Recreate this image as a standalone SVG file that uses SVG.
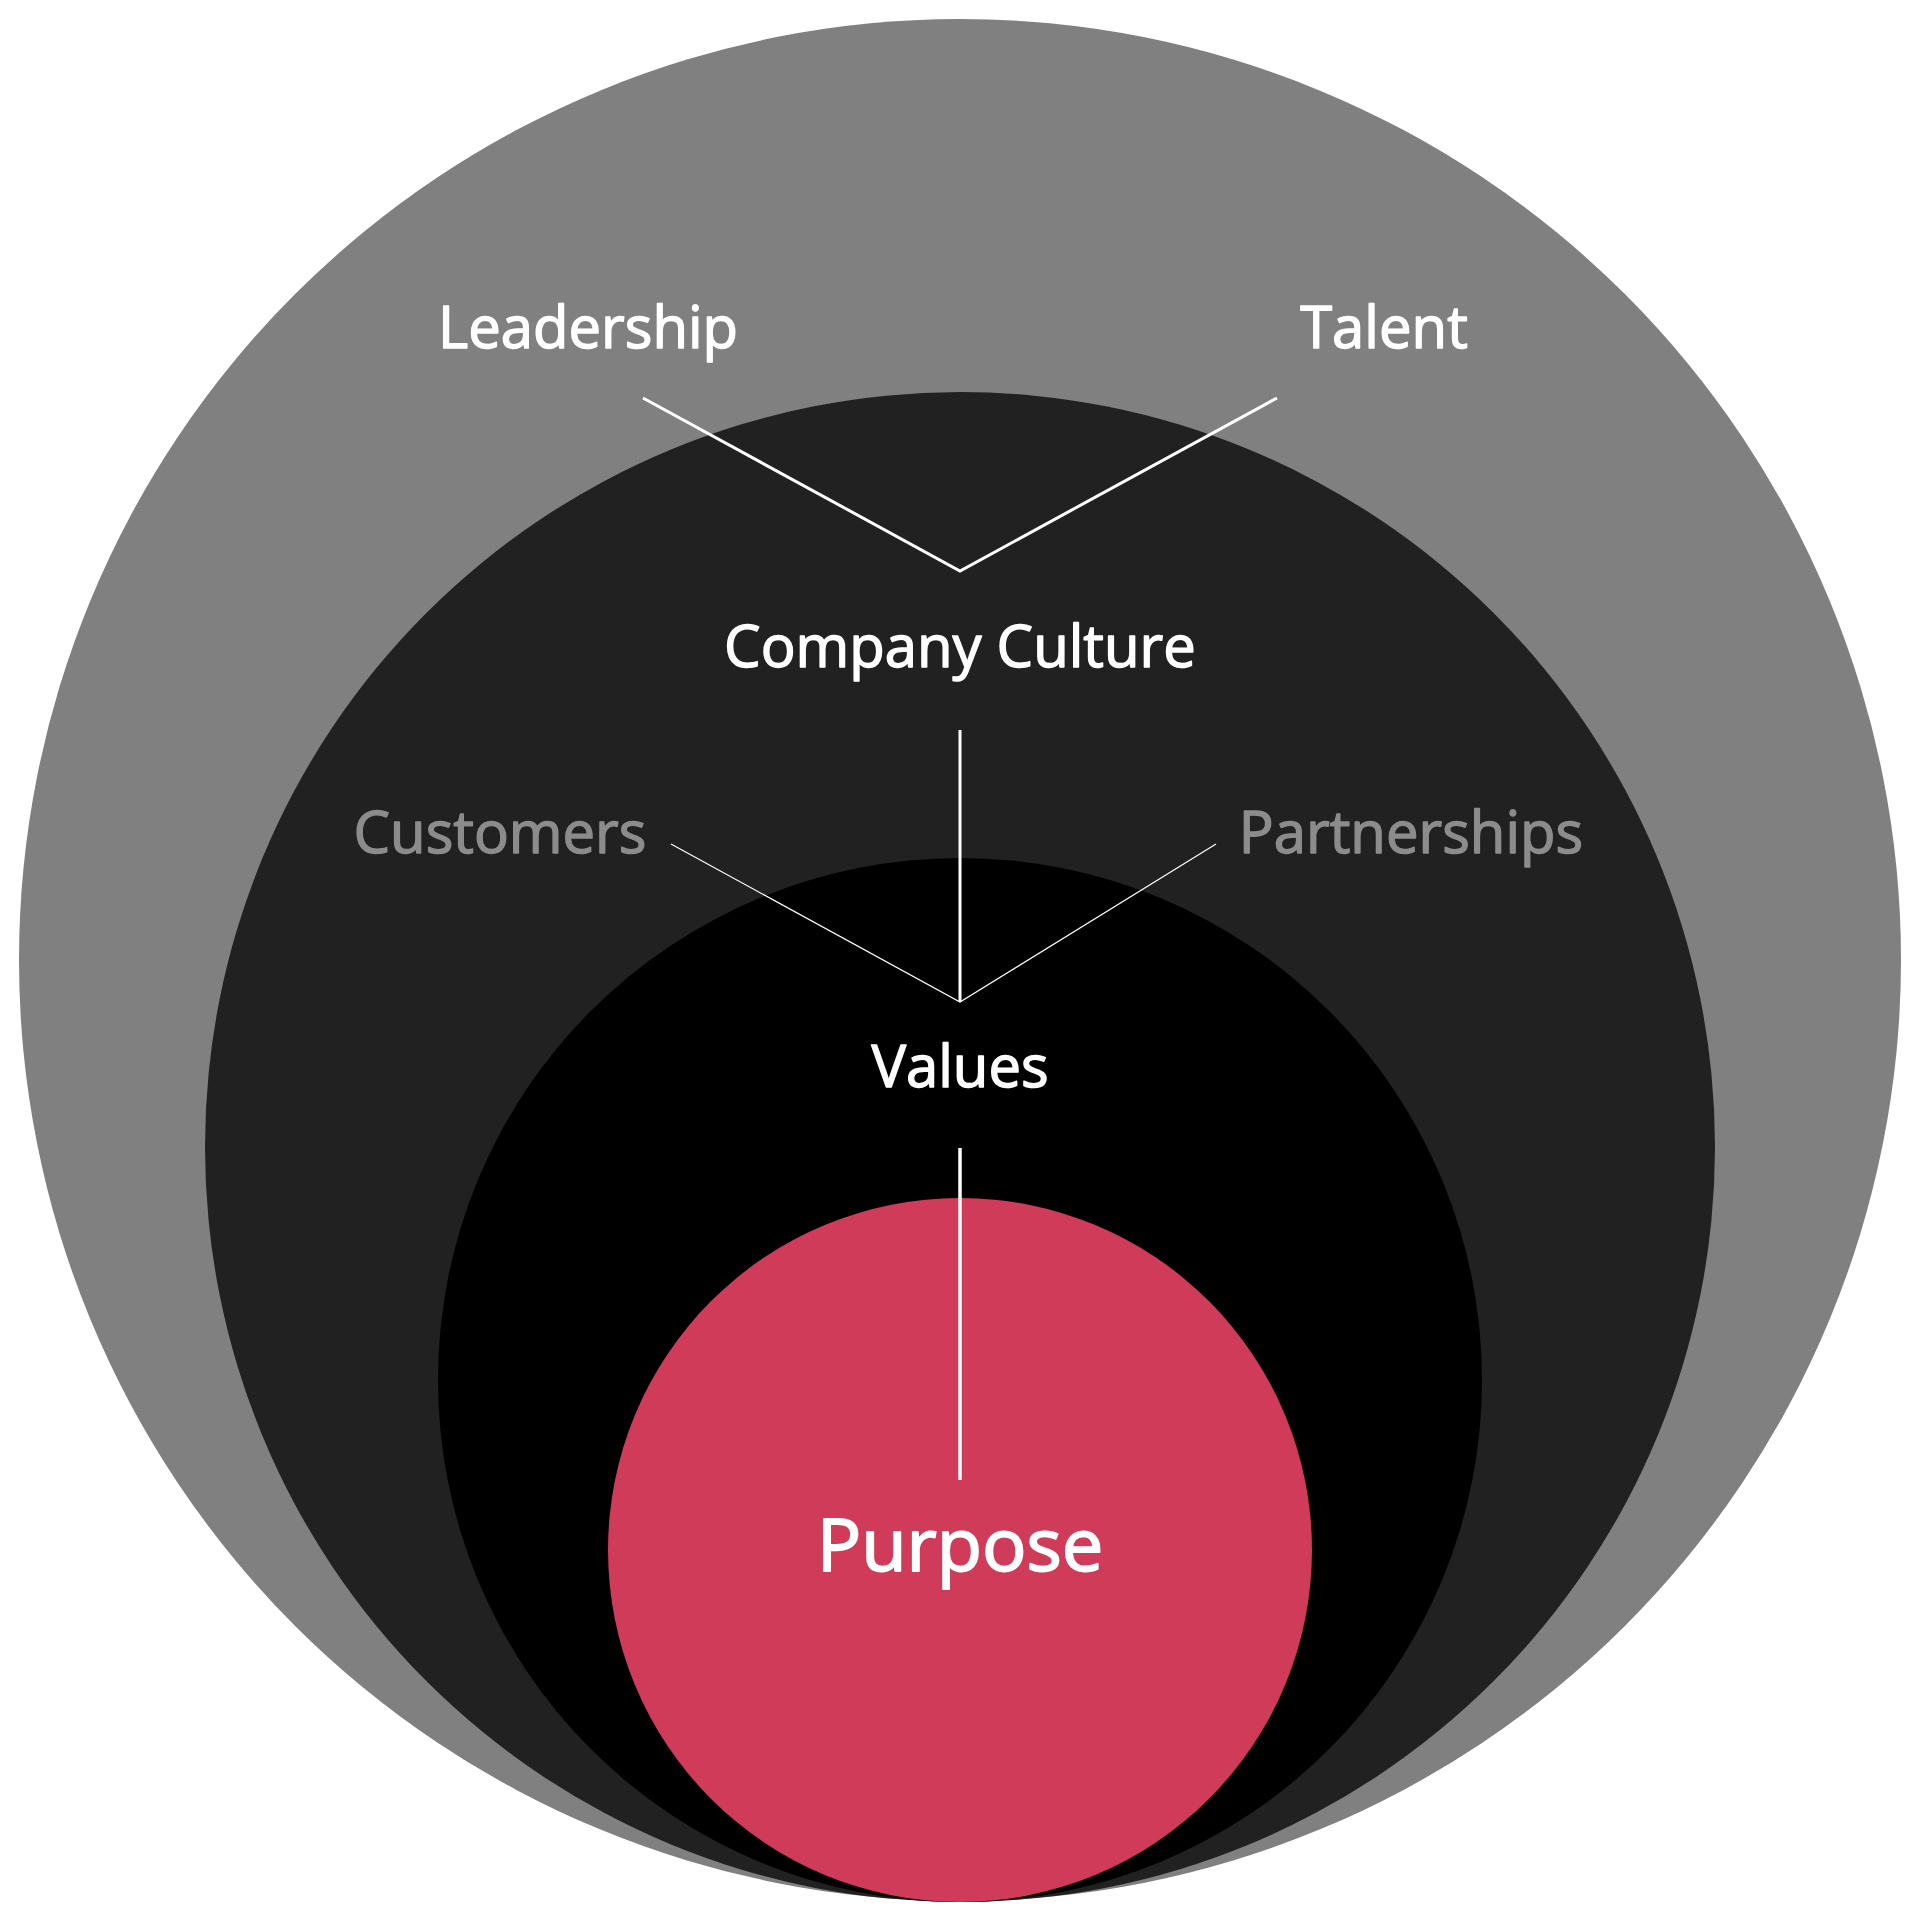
<svg xmlns="http://www.w3.org/2000/svg" width="1920" height="1920" viewBox="0 0 1920 1920">
<style>
text{font-family:"Open Sans","Noto Sans","DejaVu Sans",sans-serif;text-anchor:middle;fill:#ffffff;stroke:#ffffff;stroke-width:1.4px;stroke-linejoin:round}
.lbl{font-size:58px}
.sub{font-size:58px;fill:#8c8c8c;stroke:#8c8c8c}
.big{font-size:74px;stroke-width:1.8px}
.ln{stroke:#ffffff;fill:none;stroke-linejoin:miter}
</style>
<rect width="1920" height="1920" fill="#ffffff"/>
<g id="outer"><circle cx="960" cy="960" r="941" fill="#808080"/>
<text class="lbl" x="588" y="348">Leadership</text>
<text class="lbl" x="1384" y="348">Talent</text></g>
<g id="culture"><circle cx="960" cy="1147" r="755" fill="#212121"/>
<text class="lbl" x="960" y="667">Company Culture</text>
<text class="sub" x="500" y="853">Customers</text>
<text class="sub" x="1411" y="853">Partnerships</text></g>
<g id="values"><circle cx="960" cy="1380" r="522" fill="#000000"/>
<text class="lbl" x="960" y="1087">Values</text></g>
<g id="purpose"><circle cx="960" cy="1550" r="352" fill="#D03B5A"/>
<text class="big" x="960" y="1571">Purpose</text></g>
<g id="connectors">
<polyline class="ln" stroke-width="3" points="643,398 960,571 1277,398"/>
<line class="ln" stroke-width="3" x1="960" y1="730" x2="960" y2="1002"/>
<polyline class="ln" stroke-width="1.2" points="671,844 960,1002 1216,844"/>
<line class="ln" stroke-width="3.5" x1="960" y1="1148" x2="960" y2="1480"/>
</g>
</svg>
